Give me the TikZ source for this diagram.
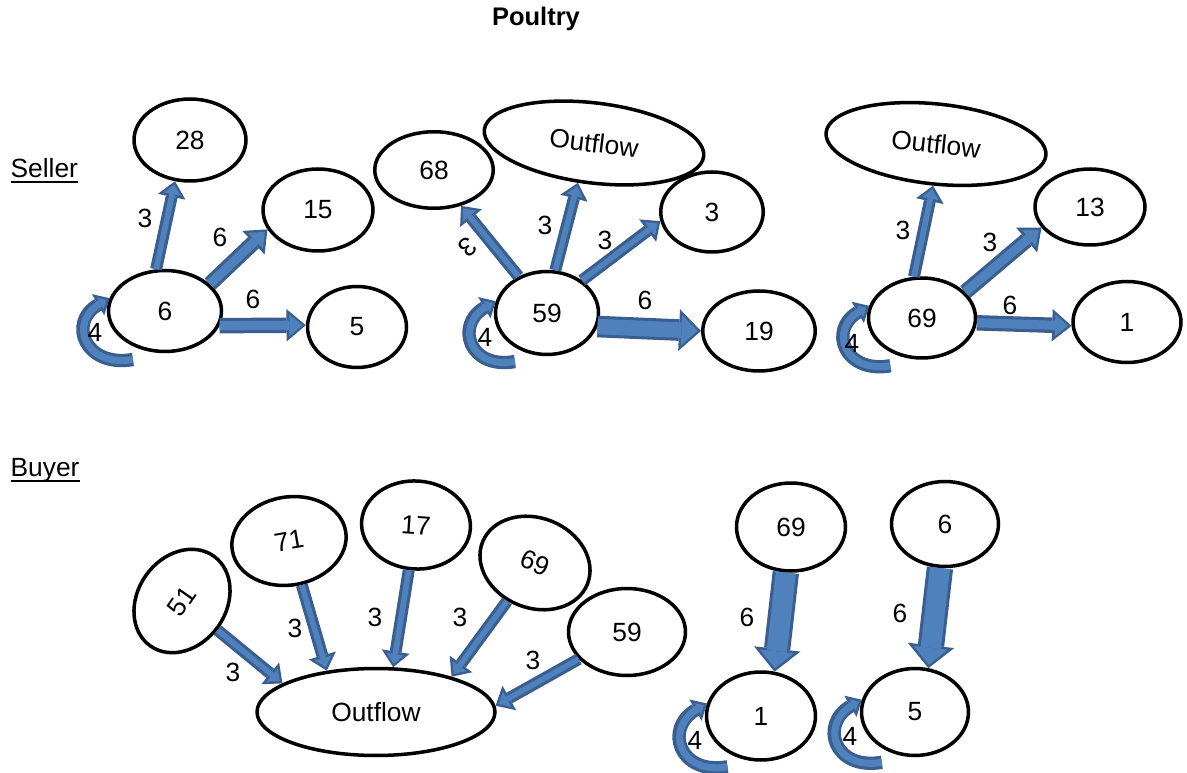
\documentclass[tikz,border=0pt]{standalone}
\usepackage{fontspec}
\setmainfont{Liberation Sans}
\usetikzlibrary{arrows.meta,shapes.geometric}

\definecolor{flowfill}{RGB}{79,129,189}
\definecolor{flowedge}{RGB}{58,95,143}

% underline kept close to the baseline
\newcommand{\ulabel}[1]{\setbox0\hbox{#1}\rlap{\vrule width\wd0 height -1.8pt depth 2.9pt}\box0}

\tikzset{
  every picture/.style={line width=0.75pt},
  farm/.style={ellipse, draw, line width=2pt, inner sep=0pt,
    minimum width=2.2cm, minimum height=1.64cm,
    font=\fontsize{15}{18}\selectfont},
  wt/.style={font=\fontsize{15}{18}\selectfont, inner sep=0pt},
  % block arrow: outer shaft, inner shaft, outer head w, l, inner head w, l
  flow/.style n args={6}{draw=flowfill, line width=#2,
    -{Triangle[width=#5, length=#6, line width=0pt]}, shorten >=2pt,
    preaction={draw=flowedge, line width=#1,
      -{Triangle[width=#3, length=#4, line width=0pt]}, shorten >=0pt}},
  flowthin/.style={flow={6.8pt}{3.2pt}{16pt}{9pt}{9.7pt}{5.5pt}},
  flowloop/.style={flow={7.6pt}{4pt}{14pt}{7.5pt}{7.5pt}{4pt}},
  flowthick/.style={flow={8.8pt}{5.2pt}{18.5pt}{11pt}{12.4pt}{7.4pt}},
  flowwide/.style={flow={12.3pt}{8.8pt}{23.8pt}{12.5pt}{17.3pt}{9.1pt}},
  flowhuge/.style={flow={15pt}{11.5pt}{26.6pt}{13pt}{19.6pt}{9.6pt}},
  loopbend/.style={out=190, in=210, looseness=1.9}
}

\begin{document}
\begin{tikzpicture}[x=0.02cm, y=-0.02cm]
    \useasboundingbox (0,0) rectangle (1187,773);

    \node[font=\bfseries\fontsize{14.5}{17}\selectfont] (title) at (536,19) {Poultry};
    \node[wt, anchor=base west] (seller) at (10,178) {\ulabel{Seller}};
    \node[wt, anchor=base west] (buyer) at (10,477) {\ulabel{Buyer}};

    % seller 6
    \node[farm, minimum width=2.24cm] (s28) at (190,140) {28};
    \node[farm] (s15) at (318,210) {15};
    \node[farm, minimum width=2.26cm, minimum height=1.62cm] (s6) at (165,311) {6};
    \node[farm, minimum width=1.98cm, minimum height=1.62cm] (s5) at (357,327) {5};
    \draw[flowthin] (s6.102) -- (s28.250);
    \draw[flowthick] (s6.31) -- (s15.201);
    \draw[flowthick] (s6.-15) -- (s5.178);
    \draw[flowloop] ([shift={(-8,10)}]s6.238) to[loopbend] (s6.167);
    \node[wt] (w1) at (145,218) {3};
    \node[wt] (w2) at (220,237) {6};
    \node[wt] (w3) at (253,299) {6};
    \node[wt] (w4) at (95,332) {4};

    % seller 59
    \node[farm, minimum width=2.37cm, minimum height=1.53cm] (s68) at (434,170) {68};
    \node[farm, minimum width=4.42cm, minimum height=1.6cm, rotate=-7] (sout2) at (594,143) {Outflow};
    \node[farm, minimum width=2.05cm, minimum height=1.6cm] (s3) at (712,212) {3};
    \node[farm, minimum width=2.06cm, minimum height=1.66cm] (s59) at (547,313) {59};
    \node[farm, minimum width=2.25cm, minimum height=1.6cm] (s19) at (759,331) {19};
    \draw[flowthin] (s59.128) -- (s68.-53);
    \draw[flowthin] (s59.79) -- (sout2.255);
    \draw[flowthin] (s59.43) -- (s3.190);
    \draw[flowwide] (s59.-15) -- (s19.180);
    \draw[flowloop] ([shift={(-8,10)}]s59.238) to[loopbend] (s59.167);
    \node[wt, rotate=-140] (w5) at (468,247) {3};
    \node[wt] (w6) at (545,225) {3};
    \node[wt] (w7) at (605,240) {3};
    \node[wt] (w8) at (645,300) {6};
    \node[wt] (w9) at (485,337) {4};

    % seller 69
    \node[farm, minimum width=4.42cm, minimum height=1.6cm, rotate=-6] (sout3) at (936,144) {Outflow};
    \node[farm, minimum height=1.52cm] (s13) at (1090,207) {13};
    \node[farm, minimum width=2.14cm, minimum height=1.6cm] (s69) at (922,318) {69};
    \node[farm, minimum width=2.16cm, minimum height=1.62cm] (s1) at (1127,322) {1};
    \draw[flowthin] (s69.101) -- (sout3.272);
    \draw[flowthick] (s69.31) -- (s13.203);
    \draw[flowthick] (s69.-5) -- (s1.184);
    \draw[flowloop] ([shift={(-8,10)}]s69.238) to[loopbend] (s69.167);
    \node[wt] (w10) at (903,230) {3};
    \node[wt] (w11) at (990,242) {3};
    \node[wt] (w12) at (1010,305) {6};
    \node[wt] (w13) at (852,343) {4};

    % buyers into outflow
    \node[farm, minimum width=2.2cm, minimum height=1.77cm, rotate=55] (b51) at (182,601) {51};
    \node[farm, minimum width=2.3cm, minimum height=1.76cm, rotate=10] (b71) at (289,541) {71};
    \node[farm, minimum width=2.18cm, minimum height=1.76cm, rotate=-4] (b17) at (416,525) {17};
    \node[farm, minimum width=2.26cm, minimum height=1.8cm, rotate=-22] (b69) at (535,563) {69};
    \node[farm, minimum width=2.34cm, minimum height=1.74cm] (b59) at (627,632) {59};
    \node[farm, minimum width=4.76cm, minimum height=1.74cm] (bout) at (376,712) {Outflow};
    \draw[flowthin] (b51) -- (bout.163);
    \draw[flowthin] (b71) -- (bout.140);
    \draw[flowthin] (b17) -- (bout.69);
    \draw[flowthin] (b69) -- (bout.25);
    \draw[flowthin] (b59) -- (bout.3);
    \node[wt] (w14) at (233,672) {3};
    \node[wt] (w15) at (295,628) {3};
    \node[wt] (w16) at (375,617) {3};
    \node[wt] (w17) at (460,617) {3};
    \node[wt] (w18) at (533,660) {3};

    % buyers 1 and 5
    \node[farm, minimum width=2.18cm, minimum height=1.76cm] (b69r) at (791,527) {69};
    \node[farm, minimum width=2.18cm, minimum height=1.76cm] (b1) at (761,716) {1};
    \node[farm, minimum width=2.14cm, minimum height=1.7cm] (b6) at (945,524) {6};
    \node[farm, minimum width=2.14cm, minimum height=1.74cm] (b5) at (915,712) {5};
    \draw[flowhuge] (b69r) -- (b1.73);
    \draw[flowhuge] (b6) -- (b5.73);
    \draw[flowloop] ([shift={(-8,10)}]b1.238) to[loopbend] (b1.167);
    \draw[flowloop] ([shift={(-8,10)}]b5.238) to[loopbend] (b5.167);
    \node[wt] (w19) at (747,617) {6};
    \node[wt] (w20) at (900,613) {6};
    \node[wt] (w21) at (695,740) {4};
    \node[wt] (w22) at (850,736) {4};
\end{tikzpicture}
\end{document}
